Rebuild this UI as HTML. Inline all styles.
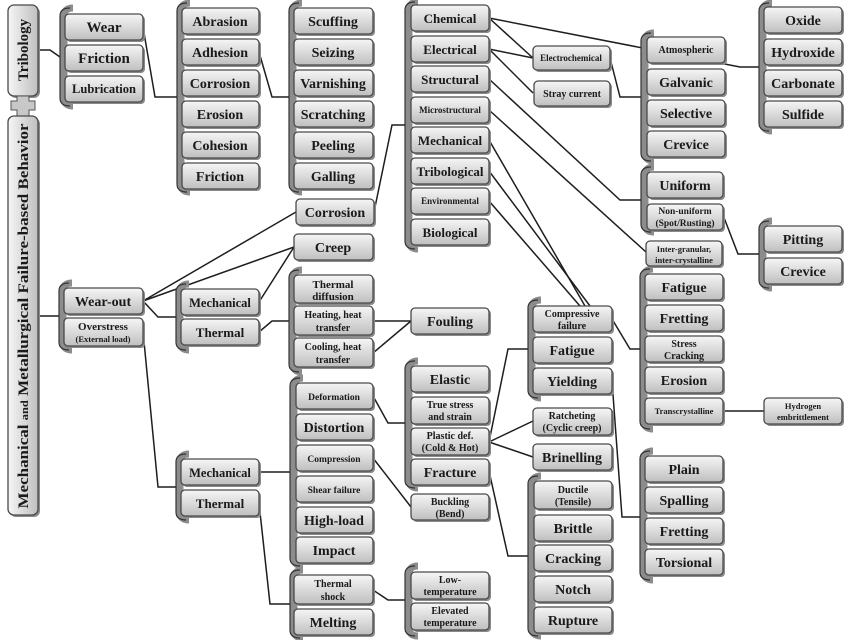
<!DOCTYPE html>
<html><head><meta charset="utf-8"><style>
html,body{margin:0;padding:0;background:#fff}
svg{display:block}
text{font-family:"Liberation Serif",serif;font-weight:bold;fill:#1a1a1a;text-anchor:middle}
.b rect.s{fill:#8a8a8a}
.b rect.m{fill:url(#g);stroke:#4a4a4a;stroke-width:1.3}
.br1{fill:none;stroke:#8c8c8c;stroke-width:7}
.br2{fill:none;stroke:#333;stroke-width:1.2}
.c{fill:none;stroke:#1e1e1e;stroke-width:1.5}
</style></head><body>
<svg width="850" height="640" viewBox="0 0 850 640" xmlns="http://www.w3.org/2000/svg">
<defs><linearGradient id="g" x1="0" y1="0" x2="0" y2="1"><stop offset="0" stop-color="#f6f6f6"/><stop offset="1" stop-color="#bfbfbf"/></linearGradient>
<linearGradient id="gv" x1="0" y1="0" x2="1" y2="0"><stop offset="0" stop-color="#f6f6f6"/><stop offset="1" stop-color="#bfbfbf"/></linearGradient></defs>

<!-- connectors -->
<g class="c">
<path d="M38,50 L50,50 L60,57"/>
<path d="M143,27 L155,97 L177,97"/>
<path d="M259,52 L272,97 L289,97"/>
<path d="M374,212 L392,125 L405,125"/>
<path d="M38,316 L59,316"/>
<path d="M143,301 L296,212"/>
<path d="M143,301 L294,247"/>
<path d="M143,301 L158,317 L176,317"/>
<path d="M143,331 L158,487 L176,487"/>
<path d="M259,302 L294,247"/>
<path d="M259,332 L272,321 L289,321"/>
<path d="M373,321 L411,321"/><path d="M373,353 L411,321"/>
<path d="M489,18 L533,58"/>
<path d="M489,18 L740,67 L759,67"/>
<path d="M489,49 L533,58"/><path d="M489,49 L533,93"/>
<path d="M610,58 L620,97 L641,97"/>
<path d="M489,79 L620,200 L641,200"/>
<path d="M489,110 L646,252"/>
<path d="M489,140 L585,306"/><path d="M489,171 L590,306"/><path d="M489,201 L580,306"/>
<path d="M723,215 L738,254 L759,254"/>
<path d="M612,319 L630,349 L640,349"/>
<path d="M723,411 L764,411"/>
<path d="M489,442 L508,349 L528,349"/>
<path d="M489,442 L533,421"/><path d="M489,442 L533,457"/>
<path d="M373,396 L388,423 L405,423"/>
<path d="M373,458 L411,507"/>
<path d="M489,471 L508,556 L528,556"/>
<path d="M612,381 L622,517 L640,517"/>
<path d="M259,472 L290,472"/>
<path d="M259,503 L270,604 L290,604"/>
<path d="M373,590 L388,600 L405,600"/>
</g>

<!-- brackets -->
<g>
<path class="br1" d="M73,8 Q64,8 64,16 V98 Q64,106 73,106"/><path class="br2" d="M70,8 Q60,8 60,16 V98 Q60,106 70,106"/>
<path class="br1" d="M190,3 Q181,3 181,11 V184 Q181,192 190,192"/><path class="br2" d="M187,3 Q177,3 177,11 V184 Q177,192 187,192"/>
<path class="br1" d="M302,3 Q293,3 293,11 V184 Q293,192 302,192"/><path class="br2" d="M299,3 Q289,3 289,11 V184 Q289,192 299,192"/>
<path class="br1" d="M418,2 Q409,2 409,10 V241 Q409,249 418,249"/><path class="br2" d="M415,2 Q405,2 405,10 V241 Q405,249 415,249"/>
<path class="br1" d="M654,33 Q645,33 645,41 V153 Q645,161 654,161"/><path class="br2" d="M651,33 Q641,33 641,41 V153 Q641,161 651,161"/>
<path class="br1" d="M772,3 Q763,3 763,11 V123 Q763,131 772,131"/><path class="br2" d="M769,3 Q759,3 759,11 V123 Q759,131 769,131"/>
<path class="br1" d="M654,167 Q645,167 645,175 V224 Q645,232 654,232"/><path class="br2" d="M651,167 Q641,167 641,175 V224 Q641,232 651,232"/>
<path class="br1" d="M772,221 Q763,221 763,229 V280 Q763,288 772,288"/><path class="br2" d="M769,221 Q759,221 759,229 V280 Q759,288 769,288"/>
<path class="br1" d="M72,283 Q63,283 63,291 V342 Q63,350 72,350"/><path class="br2" d="M69,283 Q59,283 59,291 V342 Q59,350 69,350"/>
<path class="br1" d="M189,284 Q180,284 180,292 V342 Q180,350 189,350"/><path class="br2" d="M186,284 Q176,284 176,292 V342 Q176,350 186,350"/>
<path class="br1" d="M302,270 Q293,270 293,278 V364 Q293,372 302,372"/><path class="br2" d="M299,270 Q289,270 289,278 V364 Q289,372 299,372"/>
<path class="br1" d="M541,300 Q532,300 532,308 V390 Q532,398 541,398"/><path class="br2" d="M538,300 Q528,300 528,308 V390 Q528,398 538,398"/>
<path class="br1" d="M653,269 Q644,269 644,277 V421 Q644,429 653,429"/><path class="br2" d="M650,269 Q640,269 640,277 V421 Q640,429 650,429"/>
<path class="br1" d="M418,361 Q409,361 409,369 V480 Q409,488 418,488"/><path class="br2" d="M415,361 Q405,361 405,369 V480 Q405,488 415,488"/>
<path class="br1" d="M303,378 Q294,378 294,386 V558 Q294,566 303,566"/><path class="br2" d="M300,378 Q290,378 290,386 V558 Q290,566 300,566"/>
<path class="br1" d="M189,454 Q180,454 180,462 V512 Q180,520 189,520"/><path class="br2" d="M186,454 Q176,454 176,462 V512 Q176,520 186,520"/>
<path class="br1" d="M303,570 Q294,570 294,578 V630 Q294,638 303,638"/><path class="br2" d="M300,570 Q290,570 290,578 V630 Q290,638 300,638"/>
<path class="br1" d="M418,566 Q409,566 409,574 V628 Q409,636 418,636"/><path class="br2" d="M415,566 Q405,566 405,574 V628 Q405,636 415,636"/>
<path class="br1" d="M541,476 Q532,476 532,484 V628 Q532,636 541,636"/><path class="br2" d="M538,476 Q528,476 528,484 V628 Q528,636 538,636"/>
<path class="br1" d="M653,451 Q644,451 644,459 V572 Q644,580 653,580"/><path class="br2" d="M650,451 Q640,451 640,459 V572 Q640,580 650,580"/>
</g>

<!-- vertical boxes -->
<rect x="10" y="7" width="30" height="91" rx="6" fill="#8a8a8a"/>
<rect x="8" y="5" width="30" height="91" rx="6" fill="url(#gv)" stroke="#4a4a4a" stroke-width="1.3"/>
<text transform="translate(28,50) rotate(-90)" font-size="15">Tribology</text>
<path d="M17,96 h12 v5 h6 v9 h-6 v6 h-12 v-6 h-6 v-9 h6 z" fill="#c8c8c8" stroke="#555" stroke-width="1"/>
<rect x="10" y="118" width="30" height="399" rx="6" fill="#8a8a8a"/>
<rect x="8" y="116" width="30" height="399" rx="6" fill="url(#gv)" stroke="#4a4a4a" stroke-width="1.3"/>
<text transform="translate(28,316) rotate(-90)" font-size="15" textLength="385" lengthAdjust="spacingAndGlyphs">Mechanical <tspan font-size="11">and</tspan> Metallurgical Failure-based Behavior</text>

<!-- boxes -->
<g class="b">
<!-- A -->
<rect class="s" x="67" y="16" width="78" height="26" rx="4"/><rect class="m" x="65" y="14" width="78" height="26" rx="4"/><text x="104" y="32" font-size="15">Wear</text>
<rect class="s" x="67" y="47" width="78" height="26" rx="4"/><rect class="m" x="65" y="45" width="78" height="26" rx="4"/><text x="104" y="63" font-size="15">Friction</text>
<rect class="s" x="67" y="78" width="78" height="26" rx="4"/><rect class="m" x="65" y="76" width="78" height="26" rx="4"/><text x="104" y="93" font-size="12.5">Lubrication</text>
<!-- B -->
<rect class="s" x="184" y="10" width="77" height="26" rx="4"/><rect class="m" x="182" y="8" width="77" height="26" rx="4"/><text x="220" y="26" font-size="14">Abrasion</text>
<rect class="s" x="184" y="41" width="77" height="26" rx="4"/><rect class="m" x="182" y="39" width="77" height="26" rx="4"/><text x="220" y="57" font-size="14">Adhesion</text>
<rect class="s" x="184" y="72" width="77" height="26" rx="4"/><rect class="m" x="182" y="70" width="77" height="26" rx="4"/><text x="220" y="88" font-size="14">Corrosion</text>
<rect class="s" x="184" y="103" width="77" height="26" rx="4"/><rect class="m" x="182" y="101" width="77" height="26" rx="4"/><text x="220" y="119" font-size="14">Erosion</text>
<rect class="s" x="184" y="134" width="77" height="26" rx="4"/><rect class="m" x="182" y="132" width="77" height="26" rx="4"/><text x="220" y="150" font-size="14">Cohesion</text>
<rect class="s" x="184" y="165" width="77" height="26" rx="4"/><rect class="m" x="182" y="163" width="77" height="26" rx="4"/><text x="220" y="181" font-size="14">Friction</text>
<!-- C -->
<rect class="s" x="296" y="10" width="79" height="26" rx="4"/><rect class="m" x="294" y="8" width="79" height="26" rx="4"/><text x="333" y="26" font-size="14">Scuffing</text>
<rect class="s" x="296" y="41" width="79" height="26" rx="4"/><rect class="m" x="294" y="39" width="79" height="26" rx="4"/><text x="333" y="57" font-size="14">Seizing</text>
<rect class="s" x="296" y="72" width="79" height="26" rx="4"/><rect class="m" x="294" y="70" width="79" height="26" rx="4"/><text x="333" y="88" font-size="14">Varnishing</text>
<rect class="s" x="296" y="103" width="79" height="26" rx="4"/><rect class="m" x="294" y="101" width="79" height="26" rx="4"/><text x="333" y="119" font-size="14">Scratching</text>
<rect class="s" x="296" y="134" width="79" height="26" rx="4"/><rect class="m" x="294" y="132" width="79" height="26" rx="4"/><text x="333" y="150" font-size="14">Peeling</text>
<rect class="s" x="296" y="165" width="79" height="26" rx="4"/><rect class="m" x="294" y="163" width="79" height="26" rx="4"/><text x="333" y="181" font-size="14">Galling</text>
<rect class="s" x="298" y="201" width="78" height="26" rx="4"/><rect class="m" x="296" y="199" width="78" height="26" rx="4"/><text x="335" y="217" font-size="14">Corrosion</text>
<!-- D -->
<rect class="s" x="413" y="7" width="78" height="26" rx="4"/><rect class="m" x="411" y="5" width="78" height="26" rx="4"/><text x="450" y="23" font-size="13">Chemical</text>
<rect class="s" x="413" y="38" width="78" height="26" rx="4"/><rect class="m" x="411" y="36" width="78" height="26" rx="4"/><text x="450" y="54" font-size="13">Electrical</text>
<rect class="s" x="413" y="68" width="78" height="26" rx="4"/><rect class="m" x="411" y="66" width="78" height="26" rx="4"/><text x="450" y="84" font-size="13">Structural</text>
<rect class="s" x="413" y="99" width="78" height="26" rx="4"/><rect class="m" x="411" y="97" width="78" height="26" rx="4"/><text x="450" y="113" font-size="9">Microstructural</text>
<rect class="s" x="413" y="129" width="78" height="26" rx="4"/><rect class="m" x="411" y="127" width="78" height="26" rx="4"/><text x="450" y="145" font-size="13">Mechanical</text>
<rect class="s" x="413" y="160" width="78" height="26" rx="4"/><rect class="m" x="411" y="158" width="78" height="26" rx="4"/><text x="450" y="176" font-size="13">Tribological</text>
<rect class="s" x="413" y="190" width="78" height="26" rx="4"/><rect class="m" x="411" y="188" width="78" height="26" rx="4"/><text x="450" y="204" font-size="9">Environmental</text>
<rect class="s" x="413" y="221" width="78" height="26" rx="4"/><rect class="m" x="411" y="219" width="78" height="26" rx="4"/><text x="450" y="237" font-size="13">Biological</text>
<rect class="s" x="535" y="48" width="77" height="24" rx="4"/><rect class="m" x="533" y="46" width="77" height="24" rx="4"/><text x="571" y="61" font-size="9">Electrochemical</text>
<rect class="s" x="536" y="83" width="76" height="25" rx="4"/><rect class="m" x="534" y="81" width="76" height="25" rx="4"/><text x="572" y="97" font-size="10">Stray current</text>
<!-- E -->
<rect class="s" x="649" y="39" width="78" height="26" rx="4"/><rect class="m" x="647" y="37" width="78" height="26" rx="4"/><text x="686" y="53" font-size="10">Atmospheric</text>
<rect class="s" x="649" y="71" width="78" height="26" rx="4"/><rect class="m" x="647" y="69" width="78" height="26" rx="4"/><text x="686" y="87" font-size="14">Galvanic</text>
<rect class="s" x="649" y="102" width="78" height="26" rx="4"/><rect class="m" x="647" y="100" width="78" height="26" rx="4"/><text x="686" y="118" font-size="14">Selective</text>
<rect class="s" x="649" y="133" width="78" height="26" rx="4"/><rect class="m" x="647" y="131" width="78" height="26" rx="4"/><text x="686" y="149" font-size="14">Crevice</text>
<!-- F -->
<rect class="s" x="766" y="9" width="78" height="26" rx="4"/><rect class="m" x="764" y="7" width="78" height="26" rx="4"/><text x="803" y="25" font-size="14">Oxide</text>
<rect class="s" x="766" y="41" width="78" height="26" rx="4"/><rect class="m" x="764" y="39" width="78" height="26" rx="4"/><text x="803" y="57" font-size="14">Hydroxide</text>
<rect class="s" x="766" y="72" width="78" height="26" rx="4"/><rect class="m" x="764" y="70" width="78" height="26" rx="4"/><text x="803" y="88" font-size="14">Carbonate</text>
<rect class="s" x="766" y="103" width="78" height="26" rx="4"/><rect class="m" x="764" y="101" width="78" height="26" rx="4"/><text x="803" y="119" font-size="14">Sulfide</text>
<rect class="s" x="649" y="174" width="76" height="26" rx="4"/><rect class="m" x="647" y="172" width="76" height="26" rx="4"/><text x="685" y="190" font-size="14">Uniform</text>
<rect class="s" x="649" y="206" width="76" height="26" rx="4"/><rect class="m" x="647" y="204" width="76" height="26" rx="4"/><text x="685" y="214" font-size="9.5">Non-uniform</text><text x="685" y="226" font-size="9.5">(Spot/Rusting)</text>
<rect class="s" x="648" y="243" width="76" height="25" rx="4"/><rect class="m" x="646" y="241" width="76" height="25" rx="4"/><text x="684" y="252" font-size="8.5">Inter-granular,</text><text x="684" y="263" font-size="8.5">inter-crystalline</text>
<rect class="s" x="766" y="228" width="78" height="26" rx="4"/><rect class="m" x="764" y="226" width="78" height="26" rx="4"/><text x="803" y="244" font-size="14">Pitting</text>
<rect class="s" x="766" y="260" width="78" height="26" rx="4"/><rect class="m" x="764" y="258" width="78" height="26" rx="4"/><text x="803" y="276" font-size="14">Crevice</text>
<!-- wear-out -->
<rect class="s" x="66" y="290" width="79" height="26" rx="4"/><rect class="m" x="64" y="288" width="79" height="26" rx="4"/><text x="103" y="306" font-size="14">Wear-out</text>
<rect class="s" x="66" y="320" width="79" height="28" rx="4"/><rect class="m" x="64" y="318" width="79" height="28" rx="4"/><text x="103" y="330" font-size="11">Overstress</text><text x="103" y="342" font-size="8.5">(External load)</text>
<rect class="s" x="183" y="291" width="78" height="26" rx="4"/><rect class="m" x="181" y="289" width="78" height="26" rx="4"/><text x="220" y="307" font-size="12.5">Mechanical</text>
<rect class="s" x="183" y="321" width="78" height="26" rx="4"/><rect class="m" x="181" y="319" width="78" height="26" rx="4"/><text x="220" y="337" font-size="13">Thermal</text>
<rect class="s" x="296" y="236" width="79" height="26" rx="4"/><rect class="m" x="294" y="234" width="79" height="26" rx="4"/><text x="333" y="252" font-size="14">Creep</text>
<rect class="s" x="296" y="277" width="79" height="28" rx="4"/><rect class="m" x="294" y="275" width="79" height="28" rx="4"/><text x="333" y="288" font-size="11">Thermal</text><text x="333" y="300" font-size="11">diffusion</text>
<rect class="s" x="296" y="308" width="79" height="29" rx="4"/><rect class="m" x="294" y="306" width="79" height="29" rx="4"/><text x="333" y="318" font-size="10">Heating, heat</text><text x="333" y="331" font-size="10">transfer</text>
<rect class="s" x="296" y="340" width="79" height="29" rx="4"/><rect class="m" x="294" y="338" width="79" height="29" rx="4"/><text x="333" y="350" font-size="10">Cooling, heat</text><text x="333" y="363" font-size="10">transfer</text>
<rect class="s" x="413" y="310" width="78" height="26" rx="4"/><rect class="m" x="411" y="308" width="78" height="26" rx="4"/><text x="450" y="326" font-size="14">Fouling</text>
<rect class="s" x="535" y="308" width="79" height="26" rx="4"/><rect class="m" x="533" y="306" width="79" height="26" rx="4"/><text x="572" y="317" font-size="10">Compressive</text><text x="572" y="329" font-size="10">failure</text>
<rect class="s" x="535" y="339" width="79" height="26" rx="4"/><rect class="m" x="533" y="337" width="79" height="26" rx="4"/><text x="572" y="355" font-size="14">Fatigue</text>
<rect class="s" x="535" y="370" width="79" height="26" rx="4"/><rect class="m" x="533" y="368" width="79" height="26" rx="4"/><text x="572" y="386" font-size="14">Yielding</text>
<!-- G -->
<rect class="s" x="647" y="276" width="78" height="26" rx="4"/><rect class="m" x="645" y="274" width="78" height="26" rx="4"/><text x="684" y="292" font-size="14">Fatigue</text>
<rect class="s" x="647" y="307" width="78" height="26" rx="4"/><rect class="m" x="645" y="305" width="78" height="26" rx="4"/><text x="684" y="323" font-size="14">Fretting</text>
<rect class="s" x="647" y="338" width="78" height="26" rx="4"/><rect class="m" x="645" y="336" width="78" height="26" rx="4"/><text x="684" y="347" font-size="10">Stress</text><text x="684" y="359" font-size="10">Cracking</text>
<rect class="s" x="647" y="369" width="78" height="26" rx="4"/><rect class="m" x="645" y="367" width="78" height="26" rx="4"/><text x="684" y="385" font-size="14">Erosion</text>
<rect class="s" x="647" y="400" width="78" height="26" rx="4"/><rect class="m" x="645" y="398" width="78" height="26" rx="4"/><text x="684" y="414" font-size="8.5">Transcrystalline</text>
<rect class="s" x="766" y="400" width="78" height="26" rx="4"/><rect class="m" x="764" y="398" width="78" height="26" rx="4"/><text x="803" y="409" font-size="8.5">Hydrogen</text><text x="803" y="420" font-size="8.5">embrittlement</text>
<rect class="s" x="535" y="410" width="79" height="27" rx="4"/><rect class="m" x="533" y="408" width="79" height="27" rx="4"/><text x="572" y="419" font-size="10">Ratcheting</text><text x="572" y="431" font-size="10">(Cyclic creep)</text>
<rect class="s" x="535" y="446" width="79" height="26" rx="4"/><rect class="m" x="533" y="444" width="79" height="26" rx="4"/><text x="572" y="462" font-size="14">Brinelling</text>
<rect class="s" x="413" y="368" width="78" height="26" rx="4"/><rect class="m" x="411" y="366" width="78" height="26" rx="4"/><text x="450" y="384" font-size="14">Elastic</text>
<rect class="s" x="413" y="399" width="78" height="27" rx="4"/><rect class="m" x="411" y="397" width="78" height="27" rx="4"/><text x="450" y="408" font-size="10">True stress</text><text x="450" y="420" font-size="10">and strain</text>
<rect class="s" x="413" y="430" width="78" height="27" rx="4"/><rect class="m" x="411" y="428" width="78" height="27" rx="4"/><text x="450" y="439" font-size="10">Plastic def.</text><text x="450" y="451" font-size="10">(Cold &amp; Hot)</text>
<rect class="s" x="413" y="461" width="78" height="26" rx="4"/><rect class="m" x="411" y="459" width="78" height="26" rx="4"/><text x="450" y="477" font-size="14">Fracture</text>
<!-- H -->
<rect class="s" x="298" y="385" width="77" height="26" rx="4"/><rect class="m" x="296" y="383" width="77" height="26" rx="4"/><text x="334" y="400" font-size="9.5">Deformation</text>
<rect class="s" x="298" y="416" width="77" height="26" rx="4"/><rect class="m" x="296" y="414" width="77" height="26" rx="4"/><text x="334" y="432" font-size="14">Distortion</text>
<rect class="s" x="298" y="447" width="77" height="26" rx="4"/><rect class="m" x="296" y="445" width="77" height="26" rx="4"/><text x="334" y="462" font-size="9.5">Compression</text>
<rect class="s" x="298" y="478" width="77" height="26" rx="4"/><rect class="m" x="296" y="476" width="77" height="26" rx="4"/><text x="334" y="493" font-size="9.5">Shear failure</text>
<rect class="s" x="298" y="509" width="77" height="26" rx="4"/><rect class="m" x="296" y="507" width="77" height="26" rx="4"/><text x="334" y="525" font-size="14">High-load</text>
<rect class="s" x="298" y="539" width="77" height="26" rx="4"/><rect class="m" x="296" y="537" width="77" height="26" rx="4"/><text x="334" y="555" font-size="14">Impact</text>
<rect class="s" x="413" y="496" width="78" height="26" rx="4"/><rect class="m" x="411" y="494" width="78" height="26" rx="4"/><text x="450" y="505" font-size="10">Buckling</text><text x="450" y="517" font-size="10">(Bend)</text>
<rect class="s" x="183" y="461" width="78" height="26" rx="4"/><rect class="m" x="181" y="459" width="78" height="26" rx="4"/><text x="220" y="477" font-size="12.5">Mechanical</text>
<rect class="s" x="183" y="492" width="78" height="26" rx="4"/><rect class="m" x="181" y="490" width="78" height="26" rx="4"/><text x="220" y="508" font-size="13">Thermal</text>
<rect class="s" x="296" y="577" width="79" height="29" rx="4"/><rect class="m" x="294" y="575" width="79" height="29" rx="4"/><text x="333" y="587" font-size="10">Thermal</text><text x="333" y="600" font-size="10">shock</text>
<rect class="s" x="296" y="611" width="79" height="26" rx="4"/><rect class="m" x="294" y="609" width="79" height="26" rx="4"/><text x="333" y="627" font-size="14">Melting</text>
<rect class="s" x="413" y="574" width="78" height="27" rx="4"/><rect class="m" x="411" y="572" width="78" height="27" rx="4"/><text x="450" y="583" font-size="10">Low-</text><text x="450" y="595" font-size="10">temperature</text>
<rect class="s" x="413" y="605" width="78" height="27" rx="4"/><rect class="m" x="411" y="603" width="78" height="27" rx="4"/><text x="450" y="614" font-size="10">Elevated</text><text x="450" y="626" font-size="10">temperature</text>
<!-- I -->
<rect class="s" x="536" y="483" width="78" height="28" rx="4"/><rect class="m" x="534" y="481" width="78" height="28" rx="4"/><text x="573" y="493" font-size="10">Ductile</text><text x="573" y="505" font-size="10">(Tensile)</text>
<rect class="s" x="536" y="517" width="78" height="26" rx="4"/><rect class="m" x="534" y="515" width="78" height="26" rx="4"/><text x="573" y="533" font-size="14">Brittle</text>
<rect class="s" x="536" y="547" width="78" height="26" rx="4"/><rect class="m" x="534" y="545" width="78" height="26" rx="4"/><text x="573" y="563" font-size="14">Cracking</text>
<rect class="s" x="536" y="578" width="78" height="26" rx="4"/><rect class="m" x="534" y="576" width="78" height="26" rx="4"/><text x="573" y="594" font-size="14">Notch</text>
<rect class="s" x="536" y="609" width="78" height="26" rx="4"/><rect class="m" x="534" y="607" width="78" height="26" rx="4"/><text x="573" y="625" font-size="14">Rupture</text>
<!-- J -->
<rect class="s" x="647" y="458" width="78" height="26" rx="4"/><rect class="m" x="645" y="456" width="78" height="26" rx="4"/><text x="684" y="474" font-size="14">Plain</text>
<rect class="s" x="647" y="489" width="78" height="26" rx="4"/><rect class="m" x="645" y="487" width="78" height="26" rx="4"/><text x="684" y="505" font-size="14">Spalling</text>
<rect class="s" x="647" y="520" width="78" height="26" rx="4"/><rect class="m" x="645" y="518" width="78" height="26" rx="4"/><text x="684" y="536" font-size="14">Fretting</text>
<rect class="s" x="647" y="551" width="78" height="26" rx="4"/><rect class="m" x="645" y="549" width="78" height="26" rx="4"/><text x="684" y="567" font-size="14">Torsional</text>
</g>
</svg>
</body></html>
